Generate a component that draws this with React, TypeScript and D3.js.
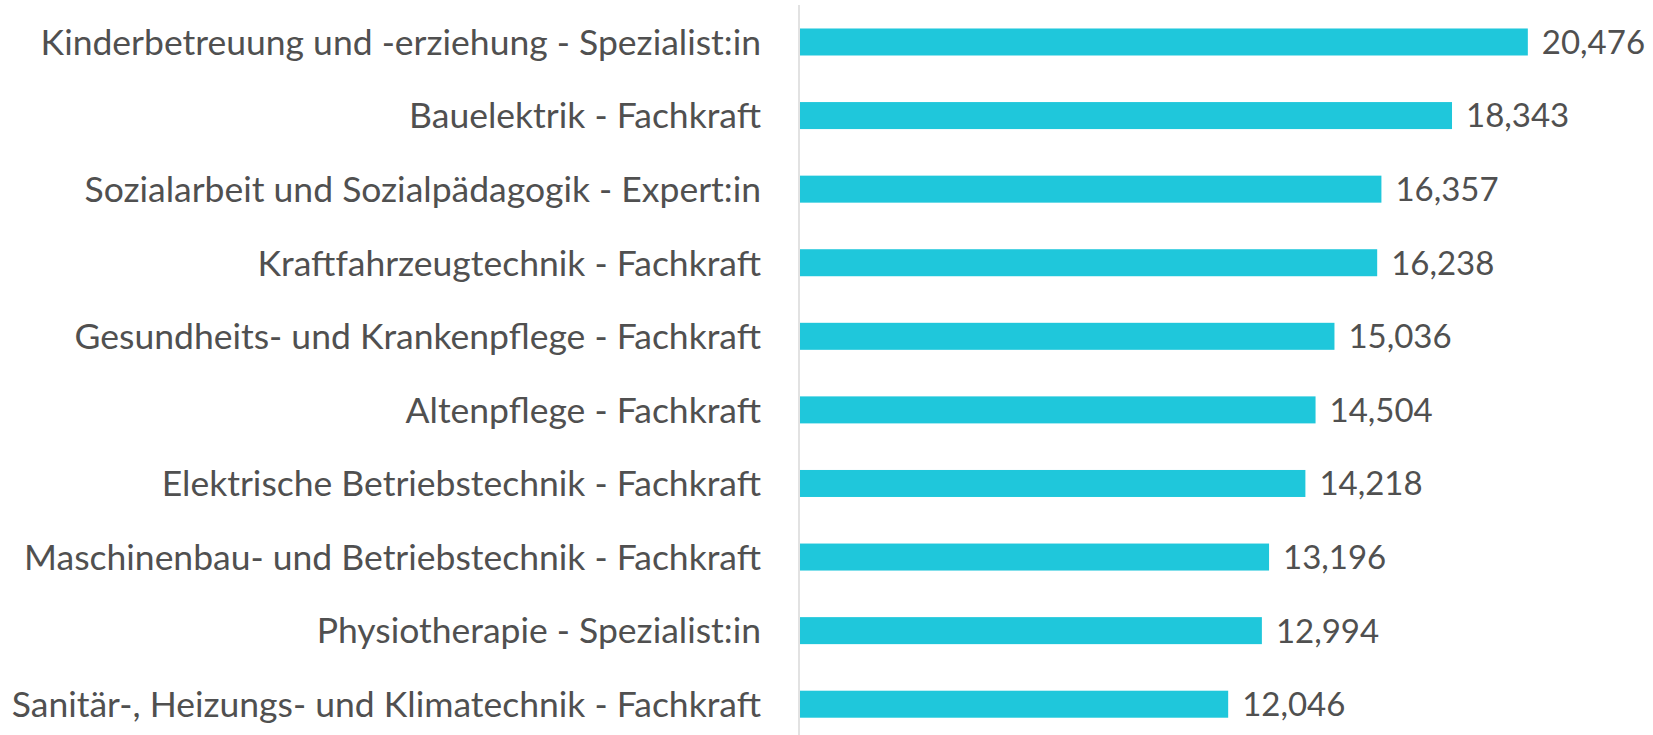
import React from "react";
import * as d3 from "d3";

const categories = [
  "Kinderbetreuung und -erziehung - Spezialist:in",
  "Bauelektrik - Fachkraft",
  "Sozialarbeit und Sozialpädagogik - Expert:in",
  "Kraftfahrzeugtechnik - Fachkraft",
  "Gesundheits- und Krankenpflege - Fachkraft",
  "Altenpflege - Fachkraft",
  "Elektrische Betriebstechnik - Fachkraft",
  "Maschinenbau- und Betriebstechnik - Fachkraft",
  "Physiotherapie - Spezialist:in",
  "Sanitär-, Heizungs- und Klimatechnik - Fachkraft",
];

const values = [20476, 18343, 16357, 16238, 15036, 14504, 14218, 13196, 12994, 12046];

const W = 1653;
const H = 735;

export default function App() {
  const x = d3.scaleLinear().domain([0, 22000]).range([800, 1582]);
  const y = d3
    .scaleBand<string>()
    .domain(categories)
    .range([5.2, 741])
    .paddingInner(0.633)
    .paddingOuter(0.3165);
  const fmt = d3.format(",");
  const font = "Lato, 'Noto Sans', sans-serif";
  return (
    <svg
      width={W}
      height={H}
      style={{ position: "absolute", left: 0, top: 0, display: "block", background: "#fff" }}
    >
      <line x1={799} x2={799} y1={5} y2={H} stroke="#d9d9d9" strokeWidth={1.5} />
      {categories.map((c, i) => {
        const yb = y(c) as number;
        const bw = y.bandwidth();
        const cy = yb + bw / 2;
        return (
          <g key={c}>
            <rect x={x(0)} y={yb} width={x(values[i]) - x(0)} height={bw} fill="#1FC7DB" />
            <text
              x={761}
              y={cy}
              dy="0.36em"
              textAnchor="end"
              fontFamily={font}
              fontSize={35.5}
              fill="#505050"
            >
              {c}
            </text>
            <text
              x={x(values[i]) + 14}
              y={cy}
              dy="0.36em"
              fontFamily={font}
              fontSize={33}
              fill="#505050"
            >
              {fmt(values[i])}
            </text>
          </g>
        );
      })}
    </svg>
  );
}
